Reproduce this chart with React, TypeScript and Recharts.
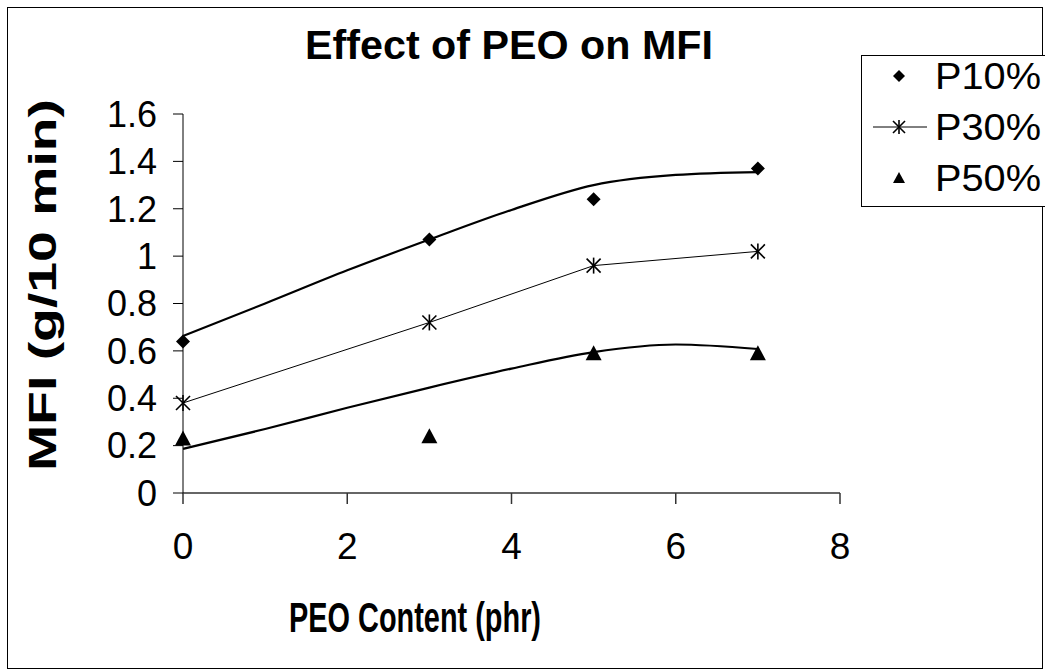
import React from "react";
import { ComposedChart, Line, Scatter, XAxis, YAxis } from "recharts";

const W = 1045;
const H = 672;

// PEO loading (phr) at which MFI was measured
const peoContent = [0, 3, 5, 7];
const p10 = [0.64, 1.07, 1.24, 1.37];
const p30 = [0.38, 0.72, 0.96, 1.02];
const p50 = [0.23, 0.24, 0.59, 0.59];

// polynomial trendlines for P10% and P50%
const trendX = [0, 1, 2, 3, 4, 5, 6, 7];
const p10Trend = [0.663, 0.8, 0.94, 1.07, 1.195, 1.3, 1.343, 1.355];
const p50Trend = [0.186, 0.27, 0.36, 0.445, 0.525, 0.595, 0.627, 0.608];

const xTicks = [0, 2, 4, 6, 8];
const yTicks = [0, 0.2, 0.4, 0.6, 0.8, 1, 1.2, 1.4, 1.6];

const seriesNames = ["P10%", "P30%", "P50%"];

const FONT = '"Liberation Sans", Arial, sans-serif';

const toPoints = (xs: number[], ys: number[]) =>
  xs.map((x, i) => ({ x, y: ys[i] }));

const Diamond = ({ cx, cy, r = 7 }: any) => (
  <path d={`M${cx},${cy - r}L${cx + r},${cy}L${cx},${cy + r}L${cx - r},${cy}Z`} fill="#000" />
);

const Star = ({ cx, cy, r = 7 }: any) => (
  <g stroke="#000" strokeWidth={1.6} fill="none">
    <line x1={cx} y1={cy - r - 1} x2={cx} y2={cy + r + 1} />
    <line x1={cx - r} y1={cy - r} x2={cx + r} y2={cy + r} />
    <line x1={cx + r} y1={cy - r} x2={cx - r} y2={cy + r} />
  </g>
);

const Triangle = ({ cx, cy, r = 8 }: any) => (
  <path d={`M${cx},${cy - r}L${cx + r},${cy + r - 1}L${cx - r},${cy + r - 1}Z`} fill="#000" />
);

const legendRows = [
  { name: seriesNames[0], marker: (cx: number, cy: number) => <Diamond cx={cx} cy={cy} r={6} /> },
  {
    name: seriesNames[1],
    marker: (cx: number, cy: number) => (
      <g>
        <line x1={cx - 26} y1={cy} x2={cx + 28} y2={cy} stroke="#000" strokeWidth={1} />
        <Star cx={cx} cy={cy} r={6} />
      </g>
    ),
  },
  { name: seriesNames[2], marker: (cx: number, cy: number) => <Triangle cx={cx} cy={cy} r={6} /> },
];

export default function App() {
  return (
    <div
      style={{
        position: "absolute",
        left: 0,
        top: 0,
        width: W,
        height: H,
        background: "#fff",
        fontFamily: FONT,
      }}
    >
      <ComposedChart
        width={W}
        height={H}
        margin={{ top: 114, right: 205, bottom: 119, left: 103 }}
      >
        <XAxis
          dataKey="x"
          type="number"
          domain={[0, 8]}
          ticks={xTicks}
          interval={0}
          allowDuplicatedCategory={false}
          height={60}
          stroke="#333"
          strokeWidth={1.5}
          tickSize={11}
          tickMargin={29}
          tick={{ fill: "#000", fontSize: 37, fontFamily: FONT }}
        />
        <YAxis
          dataKey="y"
          type="number"
          domain={[0, 1.6]}
          ticks={yTicks}
          interval={0}
          width={80}
          stroke="#000"
          tickSize={10}
          tickMargin={16}
          tick={{ fill: "#000", fontSize: 36, fontFamily: FONT }}
        />
        <Line
          data={toPoints(trendX, p10Trend)}
          dataKey="y"
          type="monotone"
          stroke="#000"
          strokeWidth={2.2}
          dot={false}
          activeDot={false}
          legendType="none"
          isAnimationActive={false}
        />
        <Line
          data={toPoints(trendX, p50Trend)}
          dataKey="y"
          type="monotone"
          stroke="#000"
          strokeWidth={2.2}
          dot={false}
          activeDot={false}
          legendType="none"
          isAnimationActive={false}
        />
        <Line
          name={seriesNames[1]}
          data={toPoints(peoContent, p30)}
          dataKey="y"
          type="linear"
          stroke="#000"
          strokeWidth={1}
          dot={(p: any) => <Star key={p.index} cx={p.cx} cy={p.cy} />}
          activeDot={false}
          isAnimationActive={false}
        />
        <Scatter
          name={seriesNames[0]}
          data={toPoints(peoContent, p10)}
          dataKey="y"
          shape={(p: any) => <Diamond cx={p.cx} cy={p.cy} />}
          isAnimationActive={false}
        />
        <Scatter
          name={seriesNames[2]}
          data={toPoints(peoContent, p50)}
          dataKey="y"
          shape={(p: any) => <Triangle cx={p.cx} cy={p.cy} />}
          isAnimationActive={false}
        />
      </ComposedChart>

      {/* frame, titles and legend */}
      <svg
        width={W}
        height={H}
        style={{ position: "absolute", left: 0, top: 0, pointerEvents: "none" }}
        fontFamily={FONT}
      >
        <rect x={7.5} y={7.5} width={1035} height={661} fill="none" stroke="#000" strokeWidth={1} />
        <text
          x={509}
          y={59}
          textAnchor="middle"
          fontSize={41}
          fontWeight="bold"
          textLength={408}
          lengthAdjust="spacingAndGlyphs"
        >
          Effect of PEO on MFI
        </text>
        <text
          x={415}
          y={632}
          textAnchor="middle"
          fontSize={42}
          fontWeight="bold"
          textLength={252}
          lengthAdjust="spacingAndGlyphs"
        >
          PEO Content (phr)
        </text>
        <text
          transform="translate(56,285) rotate(-90)"
          textAnchor="middle"
          fontSize={38}
          fontWeight="bold"
          textLength={372}
          lengthAdjust="spacingAndGlyphs"
        >
          MFI (g/10 min)
        </text>

        <rect x={861.5} y={55.5} width={200} height={151} fill="#fff" stroke="#000" strokeWidth={1} />
        {legendRows.map((row, i) => {
          const cy = 76 + i * 51;
          return (
            <g key={row.name}>
              {row.marker(899, cy)}
              <text
                x={935}
                y={cy + 13}
                fontSize={36}
                textLength={106}
                lengthAdjust="spacingAndGlyphs"
              >
                {row.name}
              </text>
            </g>
          );
        })}
      </svg>
    </div>
  );
}
